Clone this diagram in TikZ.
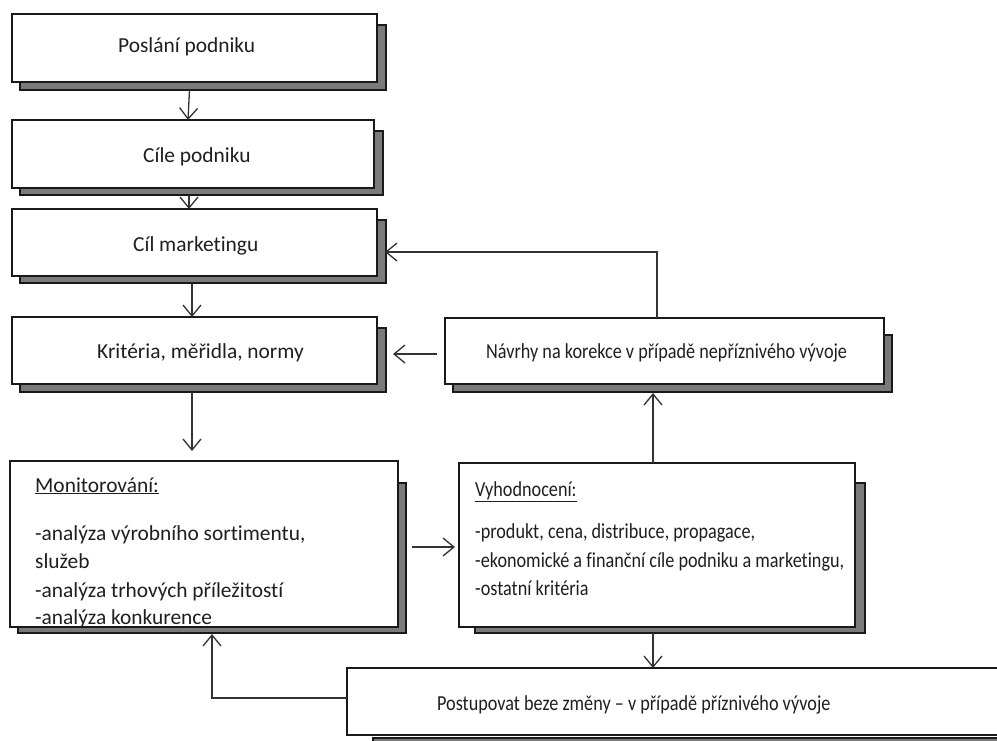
\documentclass[tikz,border=0pt]{standalone}
\usepackage{fontspec}
\setmainfont{Carlito}[Ligatures=NoCommon]
\newfontfamily\condensedfont{Carlito}[Ligatures=NoCommon, FakeStretch=0.85]
\usetikzlibrary{arrows.meta}

\tikzset{
  box/.style={draw=black!90, line width=1.8pt, fill=white, anchor=north west,
              inner sep=0pt, outer sep=0pt},
  shade/.style={draw=black!90, line width=1.3pt, fill=black!52},
  lbl/.style={anchor=base west, inner sep=0pt, text=black!88,
              font=\fontsize{21.4}{28}\selectfont},
  slbl/.style={lbl, font=\condensedfont\fontsize{21.4}{28}\selectfont},
  arr/.style={draw=black!80, line width=1.3pt,
              -{Straight Barb[length=11pt,width=18pt,line width=1.3pt]}},
}

\begin{document}
\begin{tikzpicture}[x=1pt,y=-1pt]
\useasboundingbox (0,0) rectangle (997,740);
\clip (0,0) rectangle (997,740);
\fill[white] (0,0) rectangle (997,740);

% drop shadows behind the boxes
\draw[shade] (20,25)   rectangle (386,90);
\draw[shade] (20,131)  rectangle (383,195);
\draw[shade] (20,220)  rectangle (386,283);
\draw[shade] (20,328)  rectangle (386,392);
\draw[shade] (18,483)  rectangle (406,633);
\draw[shade] (475,483) rectangle (865,633);
\draw[shade] (453,335) rectangle (892,392);
\draw[shade] (373,738) rectangle (1030,770);

% boxes
\node[box, minimum width=365pt, minimum height=68pt] (b1) at (12,14)  {};
\node[box, minimum width=362pt, minimum height=68pt] (b2) at (12,120) {};
\node[box, minimum width=365pt, minimum height=67pt] (b3) at (12,209) {};
\node[box, minimum width=365pt, minimum height=67pt] (b4) at (12,317) {};
\node[box, minimum width=388pt, minimum height=166pt] (b5) at (10,461) {};
\node[box, minimum width=396pt, minimum height=164pt] (b6) at (459,463) {};
\node[box, minimum width=439pt, minimum height=66pt] (b7) at (445,318) {};
\node[box, minimum width=680pt, minimum height=67pt] (b8) at (347,668) {};

% single-line labels
\node[lbl] (t1) at (118,52)  {Poslání podniku};
\node[lbl] (t2) at (143,162) {Cíle podniku};
\node[lbl] (t3) at (133,251) {Cíl marketingu};
\node[lbl] (t4) at (97,358)  {Kritéria, měřidla, normy};
\node[slbl] (t7) at (486,358) {Návrhy na korekce v případě nepříznivého vývoje};
\node[slbl] (t8) at (437,710) {Postupovat beze změny – v případě příznivého vývoje};

% monitoring box text
\node[lbl] (m0) at (35,492) {\underline{Monitorování:}};
\node[lbl] (m1) at (35,540) {-analýza výrobního sortimentu,};
\node[lbl] (m2) at (35,568) {služeb};
\node[lbl] (m3) at (35,597) {-analýza trhových příležitostí};
\node[lbl] (m4) at (35,624) {-analýza konkurence};

% evaluation box text
\node[slbl] (v0) at (475,496) {\underline{Vyhodnocení:}};
\node[slbl] (v1) at (475,538) {-produkt, cena, distribuce, propagace,};
\node[slbl] (v2) at (475,567) {-ekonomické a finanční cíle podniku a marketingu,};
\node[slbl] (v3) at (475,595) {-ostatní kritéria};

% connectors
\draw[arr] ([shift={(-5,8)}]b1.south) -- ([shift={(-5,0)}]b2.north);
\draw[arr] ([shift={(-4,7)}]b2.south) -- ([shift={(-5.5,0)}]b3.north);
\draw[arr] ([shift={(-2.5,7)}]b3.south) -- ([shift={(-2.5,0)}]b4.north);
\draw[arr] ([shift={(-2.5,8)}]b4.south) -- ([shift={(-12,-10)}]b5.north);
\draw[arr] ([shift={(14,3)}]b5.east) -- ([shift={(-4,2)}]b6.west);
\coordinate (c68) at ([shift={(-4,6)}]b6.south);
\draw[arr] (c68) -- (c68 |- b8.north);
\draw[arr] ([shift={(0,-3.5)}]b8.west) -| ([shift={(8,7)}]b5.south);
\draw[arr] ([shift={(-4,0)}]b6.north) -- ([shift={(-11.5,9)}]b7.south);
\draw[arr] ([shift={(-8,3)}]b7.west) -- ([shift={(16,3.5)}]b4.east);
\draw[arr] ([shift={(-7.5,0)}]b7.north) |- ([shift={(8,9.5)}]b3.east);

\end{tikzpicture}
\end{document}
